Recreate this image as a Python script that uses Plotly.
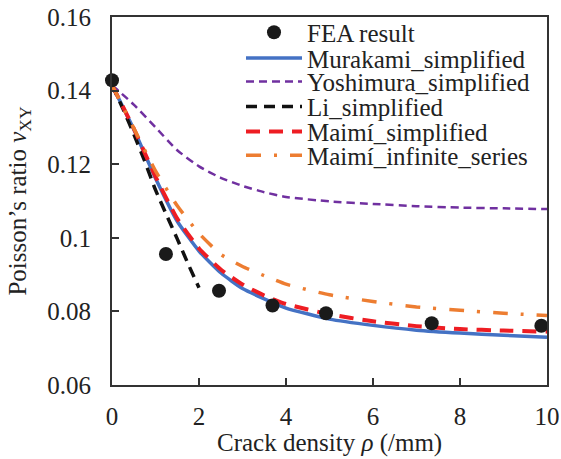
import plotly.graph_objects as go

# FEA results
fea_rho = [0.0, 1.24, 2.46, 3.69, 4.92, 7.35, 9.87]
fea_nu = [0.1428, 0.0956, 0.0856, 0.0816, 0.0795, 0.0768, 0.0761]

# model curves
rho_curve = [0, 0.5, 1, 1.5, 2, 2.5, 3, 3.5, 4, 5, 6, 7, 8, 9, 10]
murakami = [0.1415, 0.1295, 0.1162, 0.1045, 0.0964, 0.0905, 0.0862, 0.0834, 0.0809,
            0.0779, 0.0762, 0.0749, 0.0741, 0.0735, 0.0730]
yoshimura = [0.1415, 0.1362, 0.1300, 0.1238, 0.1194, 0.1163, 0.1141, 0.1124, 0.1111,
             0.1099, 0.1092, 0.1086, 0.1082, 0.1080, 0.1078]
maimi_simpl = [0.1415, 0.1297, 0.1166, 0.1052, 0.0971, 0.0914, 0.0873, 0.0843, 0.0820,
               0.0792, 0.0773, 0.0760, 0.0752, 0.0748, 0.0745]
maimi_inf = [0.1415, 0.1298, 0.1182, 0.1087, 0.1012, 0.0955, 0.0922, 0.0897, 0.0874,
             0.0845, 0.0827, 0.0812, 0.0803, 0.0795, 0.0789]
rho_li = [0, 0.25, 0.5, 0.75, 1.0, 1.25, 1.5, 1.75, 2.0]
li = [0.1415, 0.1351, 0.1282, 0.1209, 0.1130, 0.1063, 0.0997, 0.0929, 0.0864]

names = ["FEA result", "Murakami_simplified", "Yoshimura_simplified",
         "Li_simplified", "Maimí_simplified", "Maimí_infinite_series"]

x_ticks = [0, 2, 4, 6, 8, 10]
y_ticks = [0.06, 0.08, 0.1, 0.12, 0.14, 0.16]
x_title = "Crack density <i>ρ</i> (/mm)"
y_title = "Poisson’s ratio <i>ν</i><sub>XY</sub>"

FONT = "Liberation Serif, Times New Roman, serif"
TXT = "#222222"
fig = go.Figure()

fig.add_trace(go.Scatter(x=rho_curve, y=murakami, mode="lines", name=names[1],
                         line=dict(color="#4472C4", width=3.5, shape="spline", smoothing=0.5),
                         legend="legend2"))
fig.add_trace(go.Scatter(x=rho_curve, y=yoshimura, mode="lines", name=names[2],
                         line=dict(color="#7030A0", width=2.5, dash="8px,5px", shape="spline", smoothing=0.5),
                         legend="legend3"))
fig.add_trace(go.Scatter(x=rho_li, y=li, mode="lines", name=names[3],
                         line=dict(color="#111111", width=3.5, dash="11px,7px", shape="spline", smoothing=0.5),
                         legend="legend4"))
fig.add_trace(go.Scatter(x=rho_curve, y=maimi_simpl, mode="lines", name=names[4],
                         line=dict(color="#EE1D23", width=4, dash="14px,9px", shape="spline", smoothing=0.5),
                         legend="legend5"))
fig.add_trace(go.Scatter(x=rho_curve, y=maimi_inf, mode="lines", name=names[5],
                         line=dict(color="#ED7D31", width=3.5, dash="15px,13px,3px,13px", shape="spline", smoothing=0.5),
                         legend="legend6"))
fig.add_trace(go.Scatter(x=fea_rho, y=fea_nu, mode="markers", name=names[0],
                         marker=dict(color="#1a1a1a", size=14), cliponaxis=False,
                         legend="legend"))

W, H = 561, 459
ml, mr, mt, mb = 112, 14, 17, 74
pw, ph = W - ml - mr, H - mt - mb
row_px = [32.5, 58.3, 81.7, 106.7, 131.7, 155.5]
leg_x_px = 241

legends = {}
for i, py in enumerate(row_px):
    key = "legend" if i == 0 else f"legend{i+1}"
    legends[key] = dict(
        x=(leg_x_px - ml) / pw, xanchor="left",
        y=(H - mb - py) / ph, yanchor="middle",
        font=dict(family=FONT, size=25, color=TXT),
        bgcolor="rgba(0,0,0,0)", borderwidth=0, itemwidth=56,
    )

axis_common = dict(ticks="inside", ticklen=7, tickwidth=1.5, tickcolor="#333333",
                   showline=True, linecolor="#333333", linewidth=2, mirror=True,
                   showgrid=False, zeroline=False, automargin=False,
                   tickfont=dict(family=FONT, size=25, color=TXT))

fig.update_layout(
    width=W, height=H,
    margin=dict(l=ml, r=mr, t=mt, b=mb, pad=0, autoexpand=False),
    paper_bgcolor="white", plot_bgcolor="white",
    font=dict(family=FONT, size=25, color=TXT),
    showlegend=True,
    xaxis=dict(range=[0, 10], tickvals=x_ticks, ticklabelstandoff=8, **axis_common),
    yaxis=dict(range=[0.06, 0.16], tickvals=y_ticks, ticklabelstandoff=14,
               title=dict(text=y_title, standoff=14,
                          font=dict(family=FONT, size=25, color=TXT)),
               **axis_common),
    annotations=[dict(text=x_title, xref="paper", yref="paper", x=0.5, y=0,
                      xanchor="center", yanchor="middle", yshift=-58, showarrow=False,
                      font=dict(family=FONT, size=25, color=TXT))],
    **legends,
)

fig.write_html("out.html")
